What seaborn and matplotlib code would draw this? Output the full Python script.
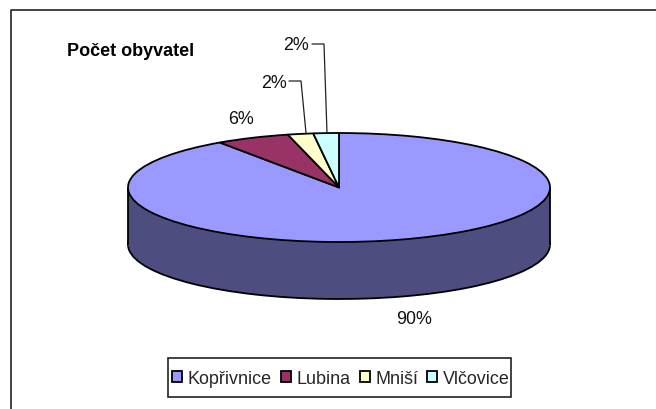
import numpy as np
import matplotlib
matplotlib.use("Agg")
import matplotlib.pyplot as plt
from matplotlib.patches import Rectangle
import seaborn as sns

categories = ["Kopřivnice", "Lubina", "Mniší", "Vlčovice"]
shares = [90.45, 5.65, 1.95, 1.95]
colors = ["#9999FF", "#993366", "#FFFFCC", "#CCFFFF"]
side_colors = ["#4D4D80", "#4D1A33", "#808066", "#668080"]
title = "Počet obyvatel"

W, H = 656, 410
CX, CY, RX, RY, DEPTH = 339, 188.5, 211, 54.5, 57
LW = 1.3
FS = 12.9

sns.set_theme(style="white")
plt.rcParams["font.family"] = ["Liberation Sans", "DejaVu Sans"]
fig = plt.figure(figsize=(W / 100, H / 100), dpi=100, facecolor="white")

ax = fig.add_axes([0, 0, 1, 1])
sy = DEPTH / RY
# lower disc and body of the cylinder
ax.pie(shares, colors=side_colors, startangle=90, counterclock=False,
       center=(0, -sy), radius=1,
       wedgeprops=dict(edgecolor="black", linewidth=LW, zorder=1, joinstyle="round"))
ax.bar(0, sy + 0.03, width=2, bottom=-sy - 0.03, color=side_colors[0], linewidth=0, zorder=2)
ax.vlines([-1, 1], -sy, 0, color="black", linewidth=LW, zorder=3)
wedges, _ = ax.pie(shares, colors=colors, startangle=90, counterclock=False,
                   center=(0, 0), radius=1, wedgeprops=dict(edgecolor="black", linewidth=LW, zorder=4))
ax.set_aspect("auto")
ax.set_xlim(-CX / RX, (W - CX) / RX)
ax.set_ylim((CY - H) / RY, CY / RY)
ax.axis("off")

ov = fig.add_axes([0, 0, 1, 1], facecolor="none")
ov.set_xlim(0, W)
ov.set_ylim(H, 0)
ov.axis("off")

ov.plot([10.5, 10.5, W], [H, 11, 11], color="#222222", linewidth=1.2)
ov.text(67, 51.5, title, fontsize=13, fontweight="bold", color="black", va="center", ha="left")

lab = [f"{round(v / sum(shares) * 100):d}%" for v in shares]
tk = dict(fontsize=FS, color="#111111", va="center", ha="center")
ov.text(414, 319.5, lab[0], **tk)
ov.text(241, 119.5, lab[1], **tk)
ov.text(274, 83, lab[2], **tk)
ov.text(296, 46, lab[3], **tk)
ov.plot([289, 301, 306], [82, 82, 134], color="#222222", linewidth=0.9)
ov.plot([312, 324, 327], [45, 45, 134], color="#222222", linewidth=0.9)

ov.add_patch(Rectangle((167.5, 359), 343.5, 39, facecolor="white", edgecolor="#222222", linewidth=1.2))
leg = ov.legend(wedges, categories, ncol=4, loc="center", bbox_to_anchor=(341 / W, 1 - 379.5 / H),
                fontsize=FS, frameon=False, borderpad=0, handlelength=0.56, handleheight=0.56,
                handletextpad=0.33, columnspacing=0.5, borderaxespad=0)
for h in leg.legend_handles:
    h.set_edgecolor("black")
    h.set_linewidth(LW)

fig.savefig("out.png", dpi=100, facecolor="white")
